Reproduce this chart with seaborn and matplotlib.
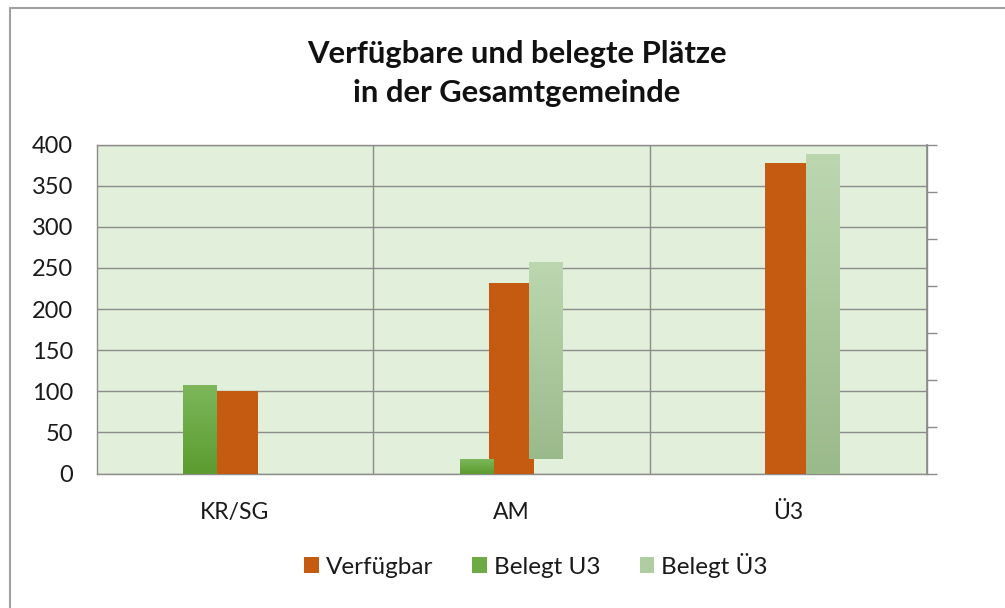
import numpy as np
import pandas as pd
import matplotlib
matplotlib.use("Agg")
import matplotlib.pyplot as plt
from matplotlib.lines import Line2D
from matplotlib.patches import Patch
from matplotlib.colors import LinearSegmentedColormap
import seaborn as sns

# ---- data ----
categories = ["KR/SG", "AM", "Ü3"]
verfuegbar = [100, 232, 378]
belegt_u3 = [108, 18, 0]
belegt_ue3 = [0, 239, 389]          # stacked on top of Belegt U3
series_names = ["Verfügbar", "Belegt U3", "Belegt Ü3"]
y_ticks = [0, 50, 100, 150, 200, 250, 300, 350, 400]
title_lines = ["Verfügbare und belegte Plätze", "in der Gesamtgemeinde"]

# ---- style ----
sns.set_theme(style="white")
plt.rcParams["font.family"] = ["Lato", "DejaVu Sans"]

C_ORANGE = "#C55A11"
C_GREEN = "#6CAA45"
C_LGREEN = "#B0CDA2"
C_BG = "#E2EFDA"
C_GRID = "#8C8C8C"
TXT = "#1a1a1a"

fig = plt.figure(figsize=(10.05, 6.08), dpi=100)
ax = fig.add_axes([96.5 / 1005, 1 - 473.5 / 608, 830 / 1005, 329 / 608])
ax.set_facecolor(C_BG)

idx = np.arange(len(categories), dtype=float)
off = 0.125

df_v = pd.DataFrame({"x": idx, "y": verfuegbar})
df_u3 = pd.DataFrame({"x": idx - off, "y": belegt_u3})
df_ue3 = pd.DataFrame({"x": idx + off, "y": belegt_ue3})

sns.barplot(data=df_v, x="x", y="y", native_scale=True, width=0.165,
            color=C_ORANGE, saturation=1, linewidth=0, errorbar=None,
            ax=ax, zorder=3)
n0 = len(ax.patches)
sns.barplot(data=df_u3, x="x", y="y", native_scale=True, width=0.122,
            color=C_GREEN, saturation=1, linewidth=0, errorbar=None,
            ax=ax, zorder=4)
n1 = len(ax.patches)
sns.barplot(data=df_ue3, x="x", y="y", native_scale=True, width=0.122,
            color=C_LGREEN, saturation=1, linewidth=0, errorbar=None,
            bottom=np.array(belegt_u3, dtype=float), ax=ax, zorder=4)
n2 = len(ax.patches)

# subtle vertical gradient on the green bars (Excel style)
cm_g = LinearSegmentedColormap.from_list("g", ["#5B9B2F", "#7DB75A"])
cm_l = LinearSegmentedColormap.from_list("l", ["#9BBA8B", "#BCD7B0"])
grad = np.linspace(0, 1, 256).reshape(-1, 1)
for cmap, patches in ((cm_g, ax.patches[n0:n1]), (cm_l, ax.patches[n1:n2])):
    for p in patches:
        x0, y0 = p.get_x(), p.get_y()
        w, h = p.get_width(), p.get_height()
        if h <= 0:
            continue
        im = ax.imshow(grad, cmap=cmap, origin="lower", aspect="auto",
                       extent=(x0, x0 + w, y0, y0 + h), zorder=4.5)
        im.set_clip_path(p)

ax.set_xlim(-0.5, len(categories) - 0.5)
ax.set_ylim(0, 400)
ax.set_yticks(y_ticks)
ax.set_yticklabels([str(v) for v in y_ticks], fontsize=17, color=TXT)
ax.set_xticks(idx)
ax.set_xticklabels(categories, fontsize=16.5, color=TXT)
ax.set_xticks([0.5, 1.5], minor=True)
ax.tick_params(axis="y", length=0, pad=17)
ax.tick_params(axis="x", which="both", length=0, pad=20.5)
ax.set_xlabel("")
ax.set_ylabel("")
ax.set_axisbelow(True)
ax.yaxis.grid(True, color=C_GRID, linewidth=1.0, zorder=0)
ax.xaxis.grid(True, which="minor", color=C_GRID, linewidth=1.0, zorder=0)
ax.xaxis.grid(False, which="major")
for s in ax.spines.values():
    s.set_color(C_GRID)
    s.set_linewidth(1.0)
    s.set_visible(True)

# secondary axis (tick marks only)
ax2 = ax.twinx()
ax2.set_ylim(0, 350)
ax2.set_yticks(np.arange(0, 351, 50))
ax2.set_yticklabels([])
ax2.tick_params(axis="y", direction="out", length=7, width=1.0, color=C_GRID, right=True)
ax2.grid(False)
for s in ax2.spines.values():
    s.set_visible(False)
ax2.spines["right"].set_visible(True)
ax2.spines["right"].set_color(C_GRID)

# title
fig.text(517 / 1005, 1 - 63 / 608, title_lines[0], ha="center", va="baseline",
         fontsize=22.3, fontweight="bold", color="#111111")
fig.text(517 / 1005, 1 - 102 / 608, title_lines[1], ha="center", va="baseline",
         fontsize=22.3, fontweight="bold", color="#111111")

# legend
handles = [Patch(facecolor=C_ORANGE, edgecolor="none"),
           Patch(facecolor=C_GREEN, edgecolor="none"),
           Patch(facecolor=C_LGREEN, edgecolor="none")]
fig.legend(handles, series_names, loc="center", bbox_to_anchor=(536 / 1005, 1 - 565 / 608),
           ncol=3, frameon=False, fontsize=17.5, handlelength=0.6, handleheight=0.6,
           handletextpad=0.3, columnspacing=1.6, labelcolor=TXT,
           borderpad=0, borderaxespad=0)

# outer chart frame (left and top edges)
fig.add_artist(Line2D([9.5 / 1005, 9.5 / 1005], [0, 1 - 7.5 / 608], color="#A0A0A0",
                      linewidth=1.5, transform=fig.transFigure))
fig.add_artist(Line2D([9.5 / 1005, 1], [1 - 7.5 / 608, 1 - 7.5 / 608], color="#A0A0A0",
                      linewidth=1.5, transform=fig.transFigure))

fig.savefig("out.png", dpi=100)
